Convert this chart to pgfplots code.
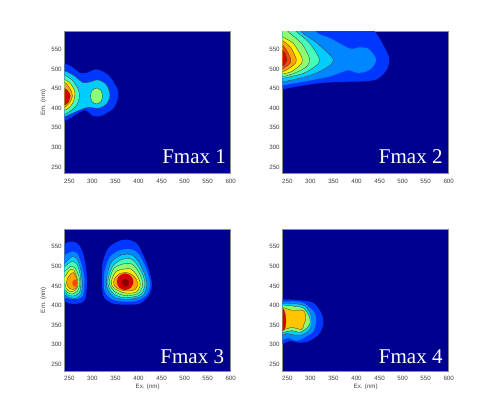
\documentclass[border=0pt]{standalone}
\usepackage{pgfplots}
\pgfplotsset{compat=1.18}
\usepackage{fontspec}
\setmainfont{Liberation Sans}
\newfontfamily\serifpanel{Liberation Serif}

\definecolor{c0}{RGB}{0,0,143}
\definecolor{c1}{RGB}{0,55,255}
\definecolor{c2}{RGB}{0,135,255}
\definecolor{c3}{RGB}{0,205,255}
\definecolor{c4}{RGB}{70,255,185}
\definecolor{c5}{RGB}{140,255,115}
\definecolor{c6}{RGB}{255,240,0}
\definecolor{c7}{RGB}{255,165,0}
\definecolor{c7b}{RGB}{255,198,0}
\definecolor{c8}{RGB}{255,70,0}
\definecolor{c9}{RGB}{215,0,0}
\definecolor{c10}{RGB}{135,0,0}

% one filled level, with or without its contour line
\newcommand{\lev}[2]{\addplot[fill=#1,draw=none,smooth cycle] coordinates {#2};}
\newcommand{\levl}[2]{\addplot[fill=#1,draw=black!75,line width=0.35pt,smooth cycle] coordinates {#2};}

\tikzset{fmax/.style={font=\fontsize{21}{24}\selectfont\serifpanel,text=white,anchor=base east,inner sep=0pt}}

\pgfplotsset{
  eem/.style={
    scale only axis, width=166pt, height=142pt, anchor=south west,
    xmin=240, xmax=600, ymin=233, ymax=595,
    xtick={250,300,...,600}, ytick={250,300,...,550},
    major tick length=0pt,
    axis line style={draw=black!45,line width=0.5pt},
    axis background/.style={fill=c0},
    tick label style={font=\fontsize{6.2}{7}\selectfont,text=black!75},
    /pgf/number format/assume math mode=true,
    xticklabel style={yshift=-1.5pt},
    yticklabel style={xshift=0.5pt},
    label style={font=\fontsize{6.2}{7}\selectfont,text=black!75},
    xlabel shift=-3.5pt, ylabel shift=-2pt,
  },
}

\begin{document}
\begin{tikzpicture}[x=1pt,y=1pt]
\path[use as bounding box] (0,0) rectangle (496,417);

\begin{axis}[eem,at={(64.7pt,243.3pt)},ylabel={Em. (nm)}]
\lev{c1}{(215,520)(240,514)(255,506)(273,490)(288,490)(309,499)(335,484)(354,450)(356,429)(346,400)(320,381)(302,380)(284,395)(262,382)(240,367)(215,360)}
\levl{c3}{(215,505)(240,495)(259,484)(280,465)(295,467)(313,472)(331,459)(338,433)(331,411)(313,400)(291,402)(270,394)(240,378)(215,370)}
\levl{c5}{(296,431)(300,446)(309,451)(318,446)(322,431)(318,416)(309,411)(300,416)}
\levl{c4}{(220,495)(240,484)(255,473)(268,452)(272,431)(266,408)(255,395)(240,384)(220,375)}
\levl{c6}{(220,485)(240,473)(252,463)(261,446)(262,431)(257,412)(248,400)(240,395)(220,385)}
\levl{c7}{(220,478)(240,466)(248,456)(255,442)(257,431)(252,416)(244,406)(240,402)(220,392)}
\levl{c9}{(220,460)(240,450)(248,442)(252,431)(248,416)(240,408)(220,398)}
\node[fmax] at (axis cs:590,258) {Fmax 1};
\end{axis}

\begin{axis}[eem,at={(282.7pt,243.3pt)}]
\lev{c1}{(215,650)(395,650)(440,595)(458,561)(471,527)(465,497)(443,473)(407,468)(364,467)(314,463)(270,455)(240,448)(215,440)}
\lev{c2}{(215,650)(270,650)(313,594)(342,579)(386,552)(404,555)(425,552)(440,532)(442,519)(433,502)(415,491)(397,491)(382,497)(342,481)(292,469)(240,458)(215,450)}
\levl{c3}{(215,650)(245,640)(281,594)(314,566)(350,522)(321,494)(285,479)(241,467)(215,458)}
\levl{c4}{(215,650)(235,630)(270,595)(299,565)(319,527)(314,510)(285,489)(240,476)(215,468)}
\levl{c5}{(215,640)(252,595)(281,565)(298,527)(292,506)(267,490)(240,480)(215,472)}
\levl{c6}{(220,600)(240,582)(263,565)(281,531)(281,514)(259,493)(240,487)(220,478)}
\levl{c7}{(220,590)(240,572)(256,557)(269,527)(267,514)(252,500)(240,493)(220,484)}
\levl{c8}{(220,578)(240,561)(247,550)(257,527)(256,514)(247,506)(240,499)(220,490)}
\levl{c9}{(220,560)(240,547)(245,540)(249,523)(245,513)(240,507)(220,495)}
\node[fmax] at (axis cs:587,258) {Fmax 2};
\end{axis}

\begin{axis}[eem,at={(64.7pt,46pt)},xlabel={Ex. (nm)},ylabel={Em. (nm)}]
% left blob
\lev{c1}{(225,550)(240,558)(255,563)(269,557)(280,533)(287,490)(288,448)(284,414)(269,405)(251,405)(240,411)(225,420)}
\lev{c2}{(225,520)(240,529)(255,537)(267,533)(277,503)(283,465)(280,426)(269,417)(255,417)(240,420)(225,428)}
\levl{c3}{(225,495)(240,507)(255,524)(266,520)(275,490)(278,456)(275,427)(262,418)(248,421)(240,427)(225,435)}
\levl{c4}{(225,488)(240,499)(255,512)(266,506)(273,482)(275,456)(272,433)(259,424)(246,427)(240,435)(225,445)}
\levl{c5}{(225,475)(240,486)(252,499)(262,496)(271,473)(272,452)(268,437)(257,429)(246,433)(240,441)(225,450)}
\levl{c6}{(225,462)(240,473)(250,490)(260,490)(268,465)(268,448)(262,438)(252,435)(243,444)(240,456)}
\levl{c7}{(250,477)(259,484)(266,466)(266,448)(259,441)(250,444)(244,456)(246,469)}
\lev{c8}{(262,467)(268,457)(262,447)(256,457)}
% right blob
\lev{c1}{(321,473)(322,507)(334,546)(359,565)(381,567)(399,554)(418,507)(429,456)(423,427)(403,405)(374,402)(345,405)(327,418)(322,435)}
\lev{c2}{(327,490)(338,524)(360,541)(385,543)(402,529)(418,490)(425,456)(418,427)(396,412)(367,410)(342,416)(327,435)(325,461)}
\levl{c3}{(332,478)(342,512)(364,529)(385,529)(400,512)(414,478)(418,452)(411,427)(393,418)(367,416)(346,422)(332,444)}
\levl{c4}{(335,473)(346,503)(366,518)(385,518)(400,499)(411,473)(414,452)(406,429)(389,422)(367,420)(347,429)(335,448)}
\levl{c5}{(338,469)(347,495)(367,506)(385,506)(398,490)(407,469)(409,452)(402,433)(385,426)(367,426)(349,435)(338,452)}
\levl{c6}{(342,465)(351,486)(369,493)(384,493)(396,478)(403,461)(403,448)(396,435)(382,431)(366,433)(350,442)(342,452)}
\levl{c7}{(347,465)(357,480)(374,484)(387,478)(396,465)(398,452)(393,441)(380,437)(366,438)(354,444)(347,452)}
\lev{c9}{(353,461)(358,475)(371,482)(384,475)(389,461)(384,446)(371,439)(358,446)}
\lev{c10}{(364,458)(367,465)(372,468)(377,465)(380,458)(377,451)(372,448)(367,451)}
\node[fmax] at (axis cs:586,253) {Fmax 3};
\end{axis}

\begin{axis}[eem,at={(282.7pt,46pt)},xlabel={Ex. (nm)}]
\lev{c1}{(215,418)(240,416)(270,414)(306,407)(324,380)(328,354)(320,329)(299,310)(278,305)(256,310)(240,302)(215,298)}
\lev{c2}{(215,412)(240,410)(270,410)(288,405)(310,380)(312,354)(306,333)(288,319)(270,310)(252,317)(240,312)(215,308)}
\levl{c3}{(215,407)(240,405)(263,405)(288,399)(301,376)(303,354)(298,337)(281,325)(263,325)(249,329)(240,325)(215,320)}
\levl{c5}{(215,403)(240,401)(259,399)(285,393)(298,371)(299,354)(292,342)(277,332)(259,336)(240,331)(215,327)}
\levl{c7b}{(215,400)(240,395)(259,388)(285,387)(290,367)(286,352)(281,339)(259,344)(240,337)(215,332)}
\levl{c9}{(225,400)(240,393)(245,380)(247,359)(245,342)(240,335)(225,328)}
\node[fmax] at (axis cs:587,253) {Fmax 4};
\end{axis}
\end{tikzpicture}
\end{document}
